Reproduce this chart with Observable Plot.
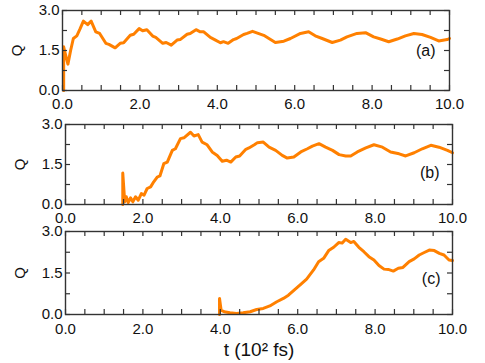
<!DOCTYPE html>
<html>
<head>
<meta charset="utf-8">
<script src="https://cdn.jsdelivr.net/npm/d3@7"></script>
<script src="https://cdn.jsdelivr.net/npm/@observablehq/plot@0.6"></script>
<style>
  body { margin: 0; background: #fff; }
  #chart { position: relative; width: 485px; height: 363px; overflow: hidden; }
  #chart svg { position: absolute; left: 0; }
</style>
</head>
<body>
<div id="chart"></div>
<script>
// ---- data (t in 10^2 fs, Q) ----
const tA = [0.03,0.03,0.06,0.14,0.21,0.28,0.37,0.45,0.54,0.65,0.74,0.86,0.96,1.12,1.2,1.36,1.49,1.58,1.75,1.84,1.98,2.07,2.18,2.33,2.41,2.59,2.68,2.81,2.96,3.04,3.22,3.3,3.45,3.56,3.65,3.82,3.93,4.08,4.16,4.28,4.42,4.5,4.68,4.77,4.91,5.2,5.5,5.72,5.89,6.15,6.36,6.53,6.71,6.97,7.18,7.35,7.61,7.83,8.04,8.22,8.43,8.65,8.86,9.08,9.29,9.51,9.72,9.94,10.0];
const qA = [0.0,1.64,1.45,0.99,1.5,1.95,2.05,2.3,2.6,2.47,2.6,2.2,2.14,1.77,1.73,1.6,1.77,1.79,2.07,2.11,2.32,2.24,2.28,2.04,1.99,1.77,1.8,1.7,1.89,1.91,2.11,2.14,2.28,2.2,2.2,1.99,1.91,1.79,1.83,1.77,1.91,1.95,2.1,2.14,2.22,2.07,1.8,1.85,1.95,2.14,2.2,2.05,1.95,1.8,1.89,2.01,2.14,2.17,2.01,1.93,1.83,1.93,2.05,2.14,2.1,1.99,1.86,1.91,1.95];

const tB = [1.48,1.48,1.53,1.57,1.62,1.68,1.74,1.81,1.88,1.96,2.03,2.11,2.2,2.28,2.37,2.44,2.54,2.63,2.76,2.84,2.97,3.06,3.23,3.32,3.43,3.53,3.66,3.79,3.92,4.05,4.16,4.27,4.4,4.5,4.66,4.74,4.89,4.96,5.11,5.26,5.43,5.6,5.73,5.9,6.08,6.25,6.38,6.55,6.72,6.9,7.07,7.24,7.37,7.54,7.76,7.97,8.19,8.4,8.62,8.79,9.01,9.22,9.44,9.65,9.87,10.0];
const qB = [0.0,1.18,0.1,0.29,0.07,0.25,0.1,0.29,0.16,0.41,0.35,0.6,0.66,0.85,1.03,1.07,1.53,1.59,2.03,2.09,2.47,2.5,2.71,2.57,2.62,2.34,2.24,1.97,1.84,1.62,1.66,1.59,1.78,1.82,2.07,2.12,2.25,2.32,2.34,2.15,2.03,1.84,1.74,1.78,1.97,2.09,2.19,2.28,2.15,2.03,1.87,1.82,1.82,1.97,2.12,2.24,2.15,1.97,1.9,1.82,1.94,2.09,2.22,2.15,2.03,1.94];

const tC = [3.98,3.98,4.02,4.1,4.25,4.42,4.59,4.77,4.94,5.11,5.28,5.46,5.63,5.76,5.93,6.1,6.23,6.41,6.54,6.67,6.8,6.93,7.06,7.15,7.24,7.37,7.45,7.58,7.71,7.84,7.97,8.1,8.23,8.34,8.47,8.6,8.72,8.88,9.01,9.14,9.27,9.4,9.53,9.66,9.78,9.91,10.0];
const qC = [0.0,0.58,0.16,0.1,0.06,0.04,0.06,0.1,0.18,0.22,0.31,0.46,0.58,0.7,0.91,1.12,1.28,1.61,1.91,2.03,2.31,2.43,2.6,2.58,2.72,2.6,2.64,2.43,2.27,2.09,1.97,1.77,1.64,1.63,1.57,1.67,1.7,1.91,2.01,2.15,2.24,2.33,2.31,2.21,2.15,1.97,1.95];

const panelLabels = ["(a)", "(b)", "(c)"];
const xTickLabels = [0, 2, 4, 6, 8, 10];
const xTickMarks = [0,0.5,1,1.5,2,2.5,3,3.5,4,4.5,5,5.5,6,6.5,7,7.5,8,8.5,9,9.5,10];
const yTickLabels = [0, 1.5, 3];
const yTickMarks = [0, 0.75, 1.5, 2.25, 3];
const yName = "Q";
const xName = "t (10\u00B2 fs)";

// ---- layout ----
const W = 485;
const panels = [
  {t: tA, q: qA, label: panelLabels[0], top: 0,   mt: 10, ih: 80, mb: 25, ml: 62, mr: 36, ldx: -14, ldy: 0,  xpad: 8},
  {t: tB, q: qB, label: panelLabels[1], top: 110, mt: 14, ih: 80, mb: 25, ml: 65, mr: 33, ldx: -13, ldy: 8,  xpad: 8},
  {t: tC, q: qC, label: panelLabels[2], top: 215, mt: 16, ih: 83, mb: 48, ml: 65, mr: 33, ldx: -12, ldy: 6,  xpad: 9, xlabel: true}
];

const chart = document.getElementById("chart");
const orange = "#ff8000";
const frameColor = "#333";
const tk = 5;

for (const p of panels) {
  const data = p.t.map((t, i) => ({t, q: p.q[i]}));
  const iw = W - p.ml - p.mr;
  const svg = Plot.plot({
    width: W,
    height: p.mt + p.ih + p.mb,
    marginTop: p.mt, marginBottom: p.mb, marginLeft: p.ml, marginRight: p.mr,
    style: {fontFamily: "'Liberation Sans', Arial, Helvetica, sans-serif", fontSize: "15px", color: "#111", background: "transparent", overflow: "visible"},
    x: {domain: [0, 10]},
    y: {domain: [0, 3]},
    marks: [
      Plot.line(data, {x: "t", y: "q", stroke: orange, strokeWidth: 3, strokeLinejoin: "round", strokeLinecap: "round"}),
      // inward tick marks on all four sides
      Plot.tickX(xTickMarks, {x: d => d, insetTop: p.ih - tk, stroke: frameColor, strokeWidth: 1.2}),
      Plot.tickX(xTickMarks, {x: d => d, insetBottom: p.ih - tk, stroke: frameColor, strokeWidth: 1.2}),
      Plot.tickY(yTickMarks, {y: d => d, insetRight: iw - tk, stroke: frameColor, strokeWidth: 1.2}),
      Plot.tickY(yTickMarks, {y: d => d, insetLeft: iw - tk, stroke: frameColor, strokeWidth: 1.2}),
      Plot.frame({stroke: frameColor, strokeWidth: 1.4}),
      Plot.axisX({ticks: xTickLabels, tickSize: 0, tickPadding: p.xpad, tickFormat: d3.format(".1f"), fontSize: 15,
                  label: p.xlabel ? xName : null, labelAnchor: "center", labelArrow: "none", labelOffset: 41}),
      Plot.axisY({ticks: yTickLabels, tickSize: 0, tickPadding: 3, tickFormat: d3.format(".1f"), fontSize: 15,
                  label: yName, labelAnchor: "center", labelArrow: "none", labelOffset: 51}),
      Plot.text([p.label], {text: d => d, frameAnchor: "right", textAnchor: "end", dx: p.ldx, dy: p.ldy, fontSize: 16, fill: "#111"})
    ]
  });
  svg.style.top = p.top + "px";
  chart.appendChild(svg);
}
// enlarge x-axis label of the bottom panel
chart.querySelectorAll("svg").forEach(s => {
  s.querySelectorAll("g[aria-label='x-axis label'] text").forEach(t => t.setAttribute("font-size", "19"));
});
</script>
</body>
</html>
